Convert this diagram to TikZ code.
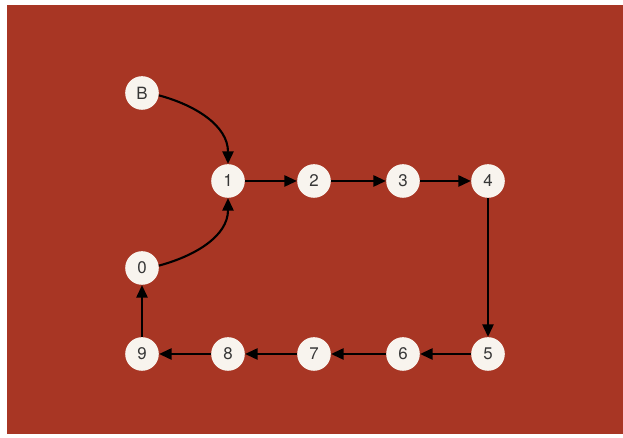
\documentclass[tikz,border=0pt]{standalone}
\usepackage{fontspec}
\setmainfont{TeX Gyre Heros}
\usetikzlibrary{arrows.meta}
\definecolor{brickred}{RGB}{168,54,36}
\definecolor{stepfill}{RGB}{248,244,238}
\definecolor{steptext}{RGB}{55,55,55}

\begin{document}
\begin{tikzpicture}[
  stepnode/.style={circle, fill=stepfill, minimum size=0.84cm, inner sep=0pt,
    text=steptext, font=\fontsize{12}{14}\selectfont},
  flow/.style={-{Triangle[length=9pt,width=8pt]}, line width=1.5pt, black}
]
% page and red panel
\useasboundingbox (0,0) rectangle (15.575,10.95);
\fill[white] (0,0) rectangle (15.575,10.95);
\fill[brickred] (0.175,0.1) rectangle (15.575,10.825);

% start node
\node[stepnode] (B) at (3.55,8.625) {B};

% upper row
\node[stepnode] (n1) at (5.7,6.425) {1};
\node[stepnode] (n2) at (7.85,6.425) {2};
\node[stepnode] (n3) at (10.075,6.425) {3};
\node[stepnode] (n4) at (12.2,6.425) {4};

% return node
\node[stepnode] (n0) at (3.55,4.25) {0};

% lower row
\node[stepnode] (n9) at (3.55,2.1) {9};
\node[stepnode] (n8) at (5.7,2.1) {8};
\node[stepnode] (n7) at (7.85,2.1) {7};
\node[stepnode] (n6) at (10.075,2.1) {6};
\node[stepnode] (n5) at (12.2,2.1) {5};

% entry curves
\draw[flow] (B.-8) to[out=-15,in=90] (n1.north);
\draw[flow] (n0.8) to[out=15,in=-90] (n1.south);

% loop
\draw[flow] (n1) -- (n2);
\draw[flow] (n2) -- (n3);
\draw[flow] (n3) -- (n4);
\draw[flow] (n4) -- (n5);
\draw[flow] (n5) -- (n6);
\draw[flow] (n6) -- (n7);
\draw[flow] (n7) -- (n8);
\draw[flow] (n8) -- (n9);
\draw[flow] (n9) -- (n0);
\end{tikzpicture}
\end{document}
